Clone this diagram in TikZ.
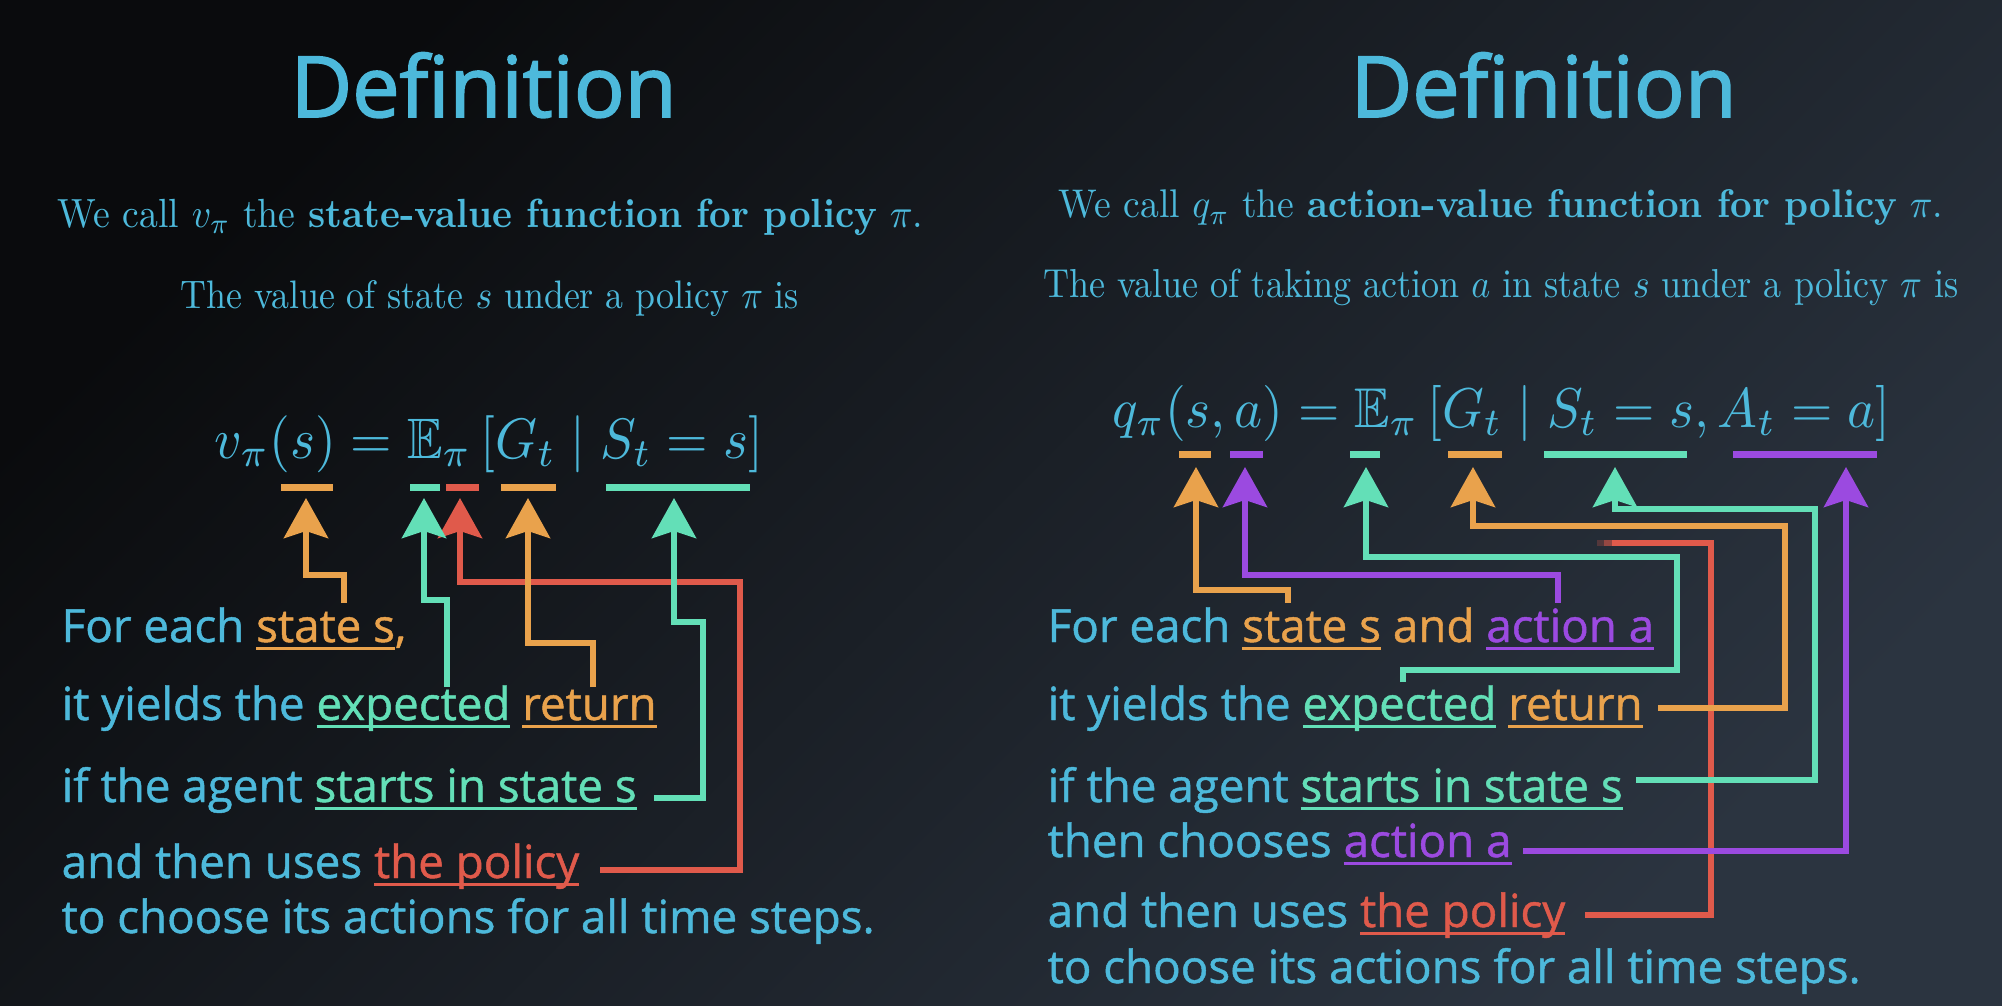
\documentclass[tikz,border=0pt]{standalone}
\usepackage{amsmath,amssymb}
\usepackage{fontspec}
\usepackage{graphicx}
\usetikzlibrary{arrows.meta}
\newfontfamily\osans[FakeBold=1]{Open Sans}
\newfontfamily\otitle[FakeBold=2]{Open Sans}
\definecolor{cBlue}{HTML}{4DB9DB}
\definecolor{cOrange}{HTML}{E9A24C}
\definecolor{cTeal}{HTML}{63DFB7}
\definecolor{cRed}{HTML}{E05A4B}
\definecolor{cPurple}{HTML}{9B4AE0}
\definecolor{bgDark}{HTML}{0A0B0D}
\definecolor{bgLight}{HTML}{2B3440}
\newlength\ulwd
\newcommand\ulc[2]{\settowidth\ulwd{#2}{\color{#1}\rlap{\rule[-2.2pt]{\ulwd}{0.85pt}}#2}}
\begin{document}
\begin{tikzpicture}[x=0.01cm,y=-0.01cm,
  titlestyle/.style={anchor=base west, inner sep=0pt, text=cBlue, font=\otitle\fontsize{24}{28}\selectfont},
  ltx/.style={anchor=base west, inner sep=0pt, text=cBlue},
  body/.style={anchor=base west, inner sep=0pt, text=cBlue, font=\osans\fontsize{13}{15}\selectfont},
  bar/.style={line width=0.07cm},
  conn/.style={line width=0.06cm, line join=miter},
  arr/.style={conn, -{Stealth[length=0.40cm,width=0.44cm,inset=0.07cm]}}
]
\useasboundingbox (0,0) rectangle (2002,1006);
\shade[top color=bgLight, bottom color=bgDark, shading angle=225] (0,0) rectangle (2002,1006);

% titles and sentences
\node[titlestyle] (Ltitle) at (290,117) {Definition};
\node[titlestyle] (Rtitle) at (1350,117) {Definition};
\node[ltx] (L1) at (57,227) {\resizebox{8.65cm}{0.285cm}{We call $v_\pi$ the \textbf{state-value function for policy} $\pi$.}};
\node[ltx] (L2) at (180,308) {\resizebox{6.18cm}{0.28cm}{The value of state $s$ under a policy $\pi$ is}};
\node[ltx] (Lf) at (214,458) {\resizebox*{5.48cm}{0.57cm}{$v_\pi(s) = \mathbb{E}_\pi\left[G_t \mid S_t = s\right]$}};
\node[ltx] (R1) at (1058,218) {\resizebox{8.84cm}{0.28cm}{We call $q_\pi$ the \textbf{action-value function for policy} $\pi$.}};
\node[ltx] (R2) at (1043,297) {\resizebox{9.14cm}{0.285cm}{The value of taking action $a$ in state $s$ under a policy $\pi$ is}};
\node[ltx] (Rf) at (1112,427) {\resizebox*{7.77cm}{0.56cm}{$q_\pi(s,a) = \mathbb{E}_\pi\left[G_t \mid S_t = s, A_t = a\right]$}};

% body text left
\node[body] (Lb1) at (61,642) {For each \ulc{cOrange}{state s}{\color{cOrange},}};
\node[body] (Lb2) at (61,720) {it yields the \ulc{cTeal}{expected} \ulc{cOrange}{return}};
\node[body] (Lb3) at (61,802) {if the agent \ulc{cTeal}{starts in state s}};
\node[body] (Lb4) at (61,878) {and then uses \ulc{cRed}{the policy}};
\node[body] (Lb5) at (61,933) {to choose its actions for all time steps.};
% body text right
\node[body] (Rb1) at (1047,642) {For each \ulc{cOrange}{state s} {\color{cOrange}and} \ulc{cPurple}{action a}};
\node[body] (Rb2) at (1047,720) {it yields the \ulc{cTeal}{expected} \ulc{cOrange}{return}};
\node[body] (Rb3) at (1047,802) {if the agent \ulc{cTeal}{starts in state s}};
\node[body] (Rb4) at (1047,857) {then chooses \ulc{cPurple}{action a}};
\node[body] (Rb5) at (1047,927) {and then uses \ulc{cRed}{the policy}};
\node[body] (Rb6) at (1047,983) {to choose its actions for all time steps.};

% bars under left formula
\draw[bar, cOrange] (281,487.5) -- (333,487.5);
\draw[bar, cTeal]   (410,487.5) -- (440,487.5);
\draw[bar, cRed]    (446,487.5) -- (479,487.5);
\draw[bar, cOrange] (501,487.5) -- (556,487.5);
\draw[bar, cTeal]   (606,487.5) -- (750,487.5);
% bars under right formula
\draw[bar, cOrange] (1179,454) -- (1211,454);
\draw[bar, cPurple] (1230,454) -- (1263,454);
\draw[bar, cTeal]   (1350,454) -- (1380,454);
\draw[bar, cOrange] (1448,454) -- (1502,454);
\draw[bar, cTeal]   (1544,454) -- (1687,454);
\draw[bar, cPurple] (1733,454) -- (1877,454);

% arrow tips (left)
\coordinate (LtS) at (306,498);
\coordinate (LtE) at (424,498);
\coordinate (LtP) at (460,498);
\coordinate (LtG) at (528,498);
\coordinate (LtSt) at (674,498);
% connector starts (left)
\coordinate (LsS) at (344,603);
\coordinate (LsE) at (447,687);
\coordinate (LsP) at (600,870);
\coordinate (LsG) at (593,687);
\coordinate (LsSt) at (654,798);

\draw[arr, cRed] (LsP) -- ++(140,0) -- ++(0,-288) -| (LtP);
\draw[arr, cOrange] (LsS) -- ++(0,-28) -| (LtS);
\draw[arr, cTeal] (LsE) -- ++(0,-87) -| (LtE);
\draw[arr, cOrange] (LsG) -- ++(0,-44) -| (LtG);
\draw[arr, cTeal] (LsSt) -- ++(49,0) -- ++(0,-176) -| (LtSt);

% arrow tips (right)
\coordinate (RtS) at (1196,467);
\coordinate (RtA) at (1245,467);
\coordinate (RtE) at (1366,467);
\coordinate (RtG) at (1473,467);
\coordinate (RtSt) at (1615,467);
\coordinate (RtAt) at (1846,467);
\coordinate (RrEnd) at (1612,543);
% connector starts (right)
\coordinate (RsS) at (1288,603);
\coordinate (RsA) at (1558,603);
\coordinate (RsE) at (1403,682);
\coordinate (RsG) at (1658,708);
\coordinate (RsSt) at (1636,780);
\coordinate (RsAt) at (1523,851);
\coordinate (RsP) at (1585,915);

\draw[conn, cRed] (RsP) -- ++(126,0) |- (RrEnd);
\draw[conn, cRed, opacity=0.6] (RrEnd) -- ++(-8,0);
\draw[conn, cRed, opacity=0.25] (RrEnd) ++(-8,0) -- ++(-7,0);
\draw[arr, cOrange] (RsS) -- ++(0,-13) -| (RtS);
\draw[arr, cPurple] (RsA) -- ++(0,-28) -| (RtA);
\draw[arr, cTeal] (RsE) -- ++(0,-12) -- ++(274,0) -- ++(0,-113) -| (RtE);
\draw[arr, cOrange] (RsG) -- ++(127,0) -- ++(0,-182) -| (RtG);
\draw[arr, cTeal] (RsSt) -- ++(179,0) -- ++(0,-271) -| (RtSt);
\draw[arr, cPurple] (RsAt) -| (RtAt);
\end{tikzpicture}
\end{document}
